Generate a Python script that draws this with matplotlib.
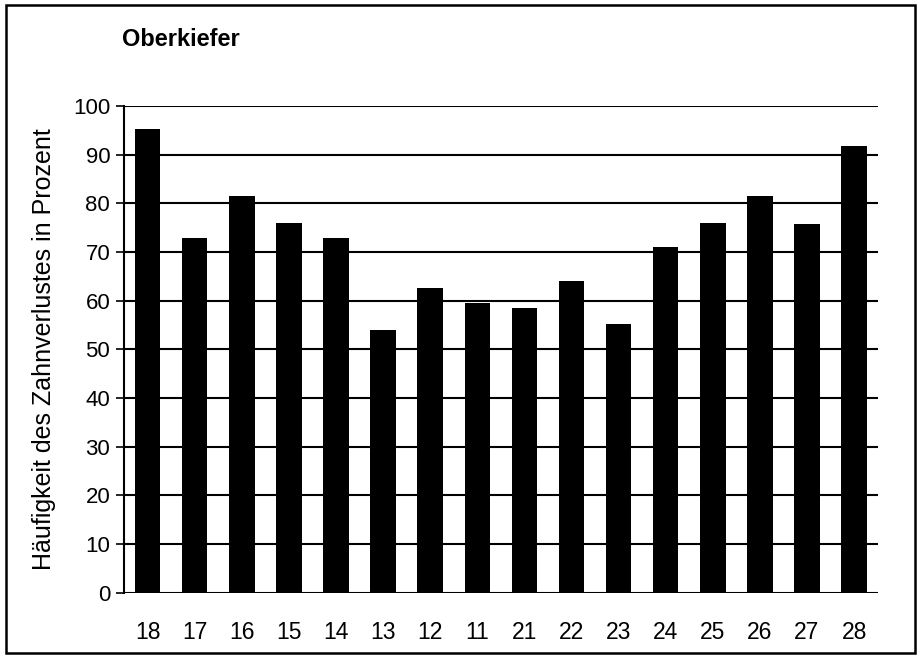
import matplotlib
matplotlib.use("Agg")
import matplotlib.pyplot as plt
from matplotlib.patches import Rectangle

# Zähne (Oberkiefer) und Häufigkeit des Zahnverlustes in Prozent
zaehne = ["18", "17", "16", "15", "14", "13", "12", "11",
          "21", "22", "23", "24", "25", "26", "27", "28"]
verlust = [95.2, 72.8, 81.6, 76.0, 72.8, 53.9, 62.6, 59.5,
           58.5, 64.0, 55.3, 71.1, 76.0, 81.5, 75.8, 91.8]
y_ticks = list(range(0, 101, 10))

plt.rcParams['font.family'] = ['Liberation Sans', 'DejaVu Sans']

fig = plt.figure(figsize=(9.19, 6.58), dpi=100)
ax = fig.add_axes([0.135, 0.099, 0.82, 0.74])

ax.set_axisbelow(True)
ax.yaxis.grid(True, color='black', linewidth=1.5)
ax.bar(range(len(zaehne)), verlust, width=0.54, color='black', zorder=3)

ax.set_xlim(-0.5, len(zaehne) - 0.5)
ax.set_ylim(0, 100)
ax.set_yticks(y_ticks)
ax.set_xticks(range(len(zaehne)))
ax.set_xticklabels(zaehne)
ax.tick_params(axis='y', labelsize=16, length=6, width=1.2, direction='out', pad=4)
ax.tick_params(axis='x', labelsize=16.5, length=0, pad=20)

for side in ['top', 'right', 'bottom']:
    ax.spines[side].set_visible(False)
ax.spines['left'].set_linewidth(1.5)

ax.set_ylabel('Häufigkeit des Zahnverlustes in Prozent', fontsize=18, labelpad=12)
fig.text(0.133, 0.93, 'Oberkiefer', fontsize=17, fontweight='bold')

# Rahmen um die ganze Abbildung
fig.patches.append(Rectangle((0.006, 0.008), 0.99, 0.985, transform=fig.transFigure,
                             fill=False, edgecolor='black', linewidth=1.8))

fig.savefig('out.png', dpi=100)
